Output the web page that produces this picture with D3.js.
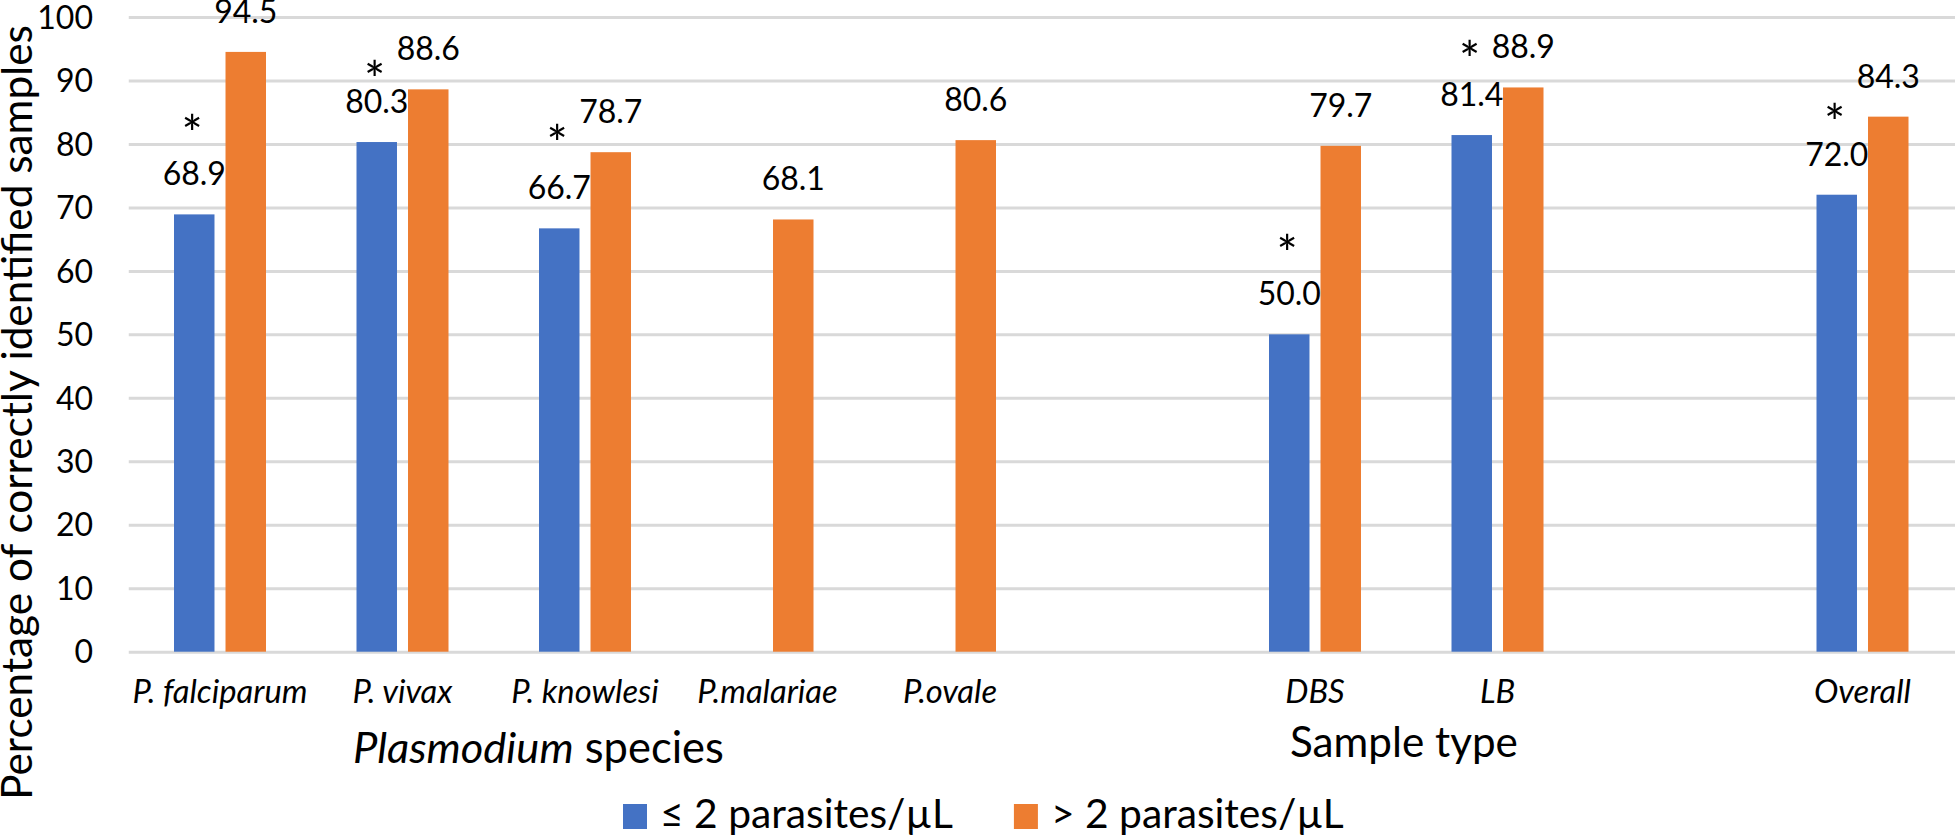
<!DOCTYPE html>
<html>
<head>
<meta charset="utf-8">
<script src="https://cdn.jsdelivr.net/npm/d3@7/dist/d3.min.js"></script>
<style>
  html, body { margin: 0; padding: 0; background: #ffffff; }
  svg { display: block; }
  text { font-family: Lato, "Open Sans", sans-serif; fill: #000000; }
</style>
</head>
<body>
<svg id="chart" width="1955" height="838"></svg>
<script>
// ---------------- DATA ----------------
const categories = ["P. falciparum", "P. vivax", "P. knowlesi", "P.malariae", "P.ovale", "", "DBS", "LB", "", "Overall"];
const seriesNames = ["≤ 2 parasites/µL", "> 2 parasites/µL"];
const lowValues  = [68.9, 80.3, 66.7, null, null, null, 50.0, 81.4, null, 72.0];
const highValues = [94.5, 88.6, 78.7, 68.1, 80.6, null, 79.7, 88.9, null, 84.3];
const significant = [true, true, true, false, false, false, true, true, false, true];
const yTicks = [0, 10, 20, 30, 40, 50, 60, 70, 80, 90, 100];
const yTitle = "Percentage of correctly identified samples";
const groupTitles = [
  { parts: [{ t: "Plasmodium", italic: true }, { t: " species", italic: false }] },
  { parts: [{ t: "Sample type", italic: false }] }
];

// ---------------- LAYOUT / STYLE ----------------
const W = 1955, H = 838;
const colors = ["#4472C4", "#ED7D31"];
const plotLeft = 128.75, plotRight = 1953.75, yZero = 651.7, yTop = 17;
const asteriskRaise = [62, 44, 66, null, null, null, 62, 57, null, 53];
const groupTitlePos = [{ x: 353, y: 763, w: 371 }, { x: 1290, y: 757, w: 228 }];
const asteriskSize = 50;

const svg = d3.select("#chart");

const x0 = d3.scaleBand().domain(d3.range(categories.length)).range([plotLeft, plotRight]).padding(0);
const groupW = 92;
const x1 = d3.scaleBand().domain([0, 1]).range([0, groupW]).paddingInner(0.214).paddingOuter(0);
const y = d3.scaleLinear().domain([0, 100]).range([yZero, yTop]);

function fitFont(sel, target, start) {
  sel.style("font-size", start + "px");
  const len = sel.node().getComputedTextLength();
  const s = start * target / len;
  sel.style("font-size", s + "px");
  return s;
}

// gridlines
const yAxis = d3.axisLeft(y).tickValues(yTicks).tickSize(-(W - plotLeft)).tickFormat(d3.format("d"));
const gAxis = svg.append("g").attr("transform", `translate(${plotLeft},0)`).call(yAxis);
gAxis.select(".domain").remove();
gAxis.selectAll(".tick line").attr("stroke", "#d9d9d9").attr("stroke-width", 3);
gAxis.selectAll(".tick text")
  .attr("x", 93 - plotLeft).attr("dy", "0.35em")
  .style("font-size", "32px").style("font-family", "Lato, sans-serif").attr("fill", "#000");

// bars
const rows = categories.map((c, i) => ({ i, vals: [lowValues[i], highValues[i]] }));
const groups = svg.append("g").selectAll("g").data(rows).join("g")
  .attr("transform", d => `translate(${x0(d.i) + x0.bandwidth() / 2 - groupW / 2},0)`);

groups.selectAll("rect")
  .data(d => d.vals.map((v, s) => ({ v, s })).filter(e => e.v != null))
  .join("rect")
  .attr("x", e => x1(e.s))
  .attr("width", x1.bandwidth())
  .attr("y", e => y(e.v))
  .attr("height", e => y(0) - y(e.v))
  .attr("fill", e => colors[e.s]);

// value labels
groups.selectAll("text.val")
  .data(d => d.vals.map((v, s) => ({ v, s })).filter(e => e.v != null))
  .join("text")
  .attr("class", "val")
  .attr("x", e => x1(e.s) + x1.bandwidth() / 2)
  .attr("y", e => y(e.v) - 29)
  .attr("text-anchor", "middle")
  .style("font-size", "32px")
  .text(e => e.v.toFixed(1));

// asterisks (above the low-density label)
rows.forEach(d => {
  if (!significant[d.i]) return;
  const cx = x0(d.i) + x0.bandwidth() / 2 - groupW / 2 + x1(0) + x1.bandwidth() / 2 - 2;
  const labelBase = y(lowValues[d.i]) - 29;
  const cy = labelBase - asteriskRaise[d.i];
  svg.append("text")
    .attr("x", cx).attr("y", cy + asteriskSize * 0.57)
    .attr("text-anchor", "middle")
    .style("font-size", asteriskSize + "px")
    .text("*");
});

// category labels
const catLabels = svg.append("g").selectAll("text").data(rows).join("text")
  .attr("x", d => x0(d.i) + x0.bandwidth() / 2)
  .attr("y", 703)
  .attr("text-anchor", "middle")
  .style("font-style", "italic")
  .text(d => categories[d.i]);
const catSize = fitFont(d3.select(catLabels.nodes()[0]), 175, 29);
catLabels.style("font-size", catSize + "px");

// group titles
groupTitles.forEach((g, k) => {
  const t = svg.append("text").attr("x", groupTitlePos[k].x).attr("y", groupTitlePos[k].y);
  g.parts.forEach(p => t.append("tspan").style("font-style", p.italic ? "italic" : "normal").text(p.t));
  fitFont(t, groupTitlePos[k].w, 40);
});

// y title
const yt = svg.append("text")
  .attr("transform", `translate(32,412.5) rotate(-90)`)
  .attr("text-anchor", "middle")
  .text(yTitle);
fitFont(yt, 775, 38);

// legend
const legend = svg.append("g");
let lx = 623;
seriesNames.forEach((name, s) => {
  legend.append("rect").attr("x", lx).attr("y", 804).attr("width", 24).attr("height", 25).attr("fill", colors[s]);
  const t = legend.append("text").attr("x", lx + 37).attr("y", 828).text(name);
  fitFont(t, 293, 33);
  lx = lx + 37 + t.node().getComputedTextLength() + 61;
});
</script>
</body>
</html>
